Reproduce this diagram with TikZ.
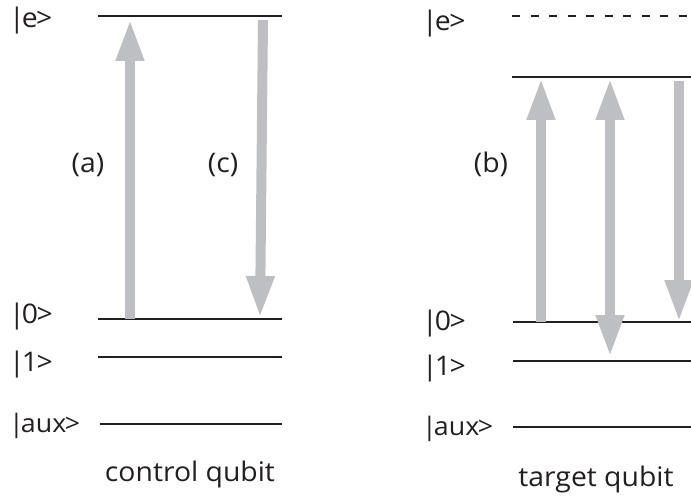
\documentclass[tikz,border=0pt]{standalone}
\usepackage{fontspec}
\setmainfont[FakeStretch=1.05]{Open Sans}
\usetikzlibrary{arrows.meta}
\definecolor{ink}{RGB}{35,31,32}
\definecolor{arrowgray}{RGB}{190,191,195}
\newcommand\myket[1]{|\kern-3pt#1\kern-1.5pt>}
\tikzset{
  level/.style={draw=ink, line width=2.7pt},
  dashedlevel/.style={draw=ink, line width=2.7pt, dash pattern=on 8pt off 10.5pt},
  lbl/.style={anchor=base west, inner sep=0pt, text=ink, font=\fontsize{27}{32}\selectfont},
  auxlbl/.style={lbl, font=\fontsize{25.5}{32}\selectfont},
  tag/.style={anchor=base, inner sep=0pt, text=ink, font=\fontsize{27}{32}\selectfont},
  trans/.style={draw=arrowgray, line width=10pt, -{Triangle[width=26pt,length=42pt]}},
  transboth/.style={draw=arrowgray, line width=10pt, {Triangle[width=26pt,length=42pt]}-{Triangle[width=26pt,length=42pt]}}
}
\begin{document}
\begin{tikzpicture}[x=1pt,y=-1pt]
\useasboundingbox (0,0) rectangle (691,500);
\clip (0,0) rectangle (691,500);
% ---------- control qubit ----------
\coordinate (Le1) at (98,16);  \coordinate (Le2) at (282,16);
\coordinate (L01) at (98,319); \coordinate (L02) at (282,319);
\coordinate (L11) at (98,357); \coordinate (L12) at (282,357);
\coordinate (La1) at (100,424); \coordinate (La2) at (282,424);
\draw[level] (Le1) -- (Le2);
\draw[level] (L01) -- (L02);
\draw[level] (L11) -- (L12);
\draw[level] (La1) -- (La2);
\node[lbl] (le) at (9,28) {\myket{e}};
\node[lbl] (l0) at (9,323) {\myket{0}};
\node[lbl] (l1) at (9,371) {\myket{1}};
\node[auxlbl] (laux) at (9,432) {\myket{aux}};
\node[tag] (ta) at (88,172) {(a)};
\node[tag] (tc) at (223,172) {(c)};
\node[tag] (ctrl) at (190,481) {control qubit};
\coordinate (aS) at (130,319); \coordinate (aE) at (130,19);
\coordinate (cS) at (263,20);  \coordinate (cE) at (260,318);
\draw[trans] (aS) -- (aE);
\draw[trans] (cS) -- (cE);
% ---------- target qubit ----------
\coordinate (Re1) at (512,16);  \coordinate (Re2) at (695,16);
\coordinate (Rt1) at (512,77);  \coordinate (Rt2) at (695,77);
\coordinate (R01) at (513,322); \coordinate (R02) at (695,322);
\coordinate (R11) at (513,361); \coordinate (R12) at (695,361);
\coordinate (Ra1) at (513,427); \coordinate (Ra2) at (695,427);
\draw[dashedlevel] (Re1) -- (Re2);
\draw[level] (Rt1) -- (Rt2);
\draw[level] (R01) -- (R02);
\draw[level] (R11) -- (R12);
\draw[level] (Ra1) -- (Ra2);
\node[lbl] (re) at (422,31) {\myket{e}};
\node[lbl] (r0) at (422,330) {\myket{0}};
\node[lbl] (r1) at (422,375) {\myket{1}};
\node[auxlbl] (raux) at (422,435) {\myket{aux}};
\node[tag] (tb) at (491,172) {(b)};
\node[tag] (targ) at (596,486) {target qubit};
\coordinate (b1S) at (541,322); \coordinate (b1E) at (541,78);
\coordinate (b2S) at (610,357); \coordinate (b2E) at (610,78);
\coordinate (b3S) at (679,81);  \coordinate (b3E) at (679,322);
\draw[trans] (b1S) -- (b1E);
\draw[transboth] (b2S) -- (b2E);
\draw[trans] (b3S) -- (b3E);
\end{tikzpicture}
\end{document}
